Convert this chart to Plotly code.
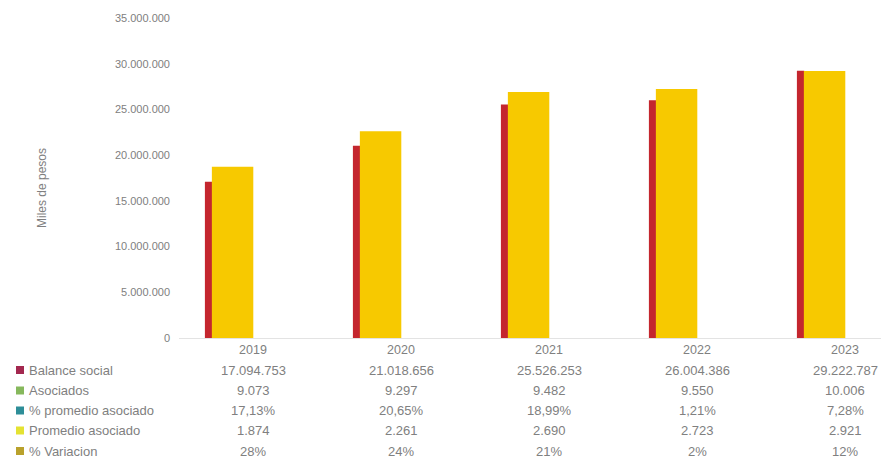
import plotly.graph_objects as go

years = ["2019", "2020", "2021", "2022", "2023"]
balance_social = [17094753, 21018656, 25526253, 26004386, 29222787]
asociados = [9073, 9297, 9482, 9550, 10006]
pct_promedio_asociado = ["17,13%", "20,65%", "18,99%", "1,21%", "7,28%"]
promedio_asociado = [1874, 2261, 2690, 2723, 2921]
pct_variacion = ["28%", "24%", "21%", "2%", "12%"]

row_labels = ["Balance social", "Asociados", "% promedio asociado", "Promedio asociado", "% Variacion"]
row_colors = ["#A3284F", "#86B85C", "#2E8E98", "#E4E232", "#B9A12C"]

def fmt_int(v):
    return f"{v:,}".replace(",", ".")

table_rows = [
    [fmt_int(v) for v in balance_social],
    [fmt_int(v) for v in asociados],
    pct_promedio_asociado,
    [fmt_int(v) for v in promedio_asociado],
    pct_variacion,
]

OFF = 8  # page body margin
W, H = 889 - OFF, 461 - OFF
L, R, T, B = 179 - OFF, 0, 18 - OFF, 461 - 338
PW, PH = W - L - R, H - T - B
BASE = T + PH  # y pixel (figure coords) of the x axis


def px_x(screen_x):
    return (screen_x - OFF - L) / PW


def px_y(screen_y):
    return (BASE - (screen_y - OFF)) / PH


xs = list(range(len(years)))

fig = go.Figure()
fig.add_trace(go.Bar(
    x=xs, y=balance_social, name="Balance social",
    marker=dict(color="#C4262E", line=dict(width=0)),
    width=0.05, offset=-0.325, yaxis="y",
))
fig.add_trace(go.Bar(
    x=xs, y=promedio_asociado, name="Promedio asociado",
    marker=dict(color="#F7C900", line=dict(width=0)),
    width=0.28, offset=-0.278, yaxis="y2",
))

TXT = "#808080"
FONT = "Liberation Sans"

annotations = []
shapes = []
row_y_px = [370, 390.5, 410.5, 430.5, 451]
for r, (lab, col, vals) in enumerate(zip(row_labels, row_colors, table_rows)):
    yp = px_y(row_y_px[r])
    shapes.append(dict(type="rect", xref="paper", yref="paper",
                       x0=px_x(16), x1=px_x(24),
                       y0=px_y(row_y_px[r] + 4), y1=px_y(row_y_px[r] - 4),
                       fillcolor=col, line=dict(width=0)))
    annotations.append(dict(xref="paper", yref="paper", x=px_x(27), y=yp,
                            text=lab, showarrow=False, xanchor="left", yanchor="middle",
                            font=dict(size=13, color=TXT, family=FONT)))
    for i, v in enumerate(vals):
        annotations.append(dict(xref="x", yref="paper", x=xs[i], y=yp, text=v,
                                showarrow=False, xanchor="center", yanchor="middle",
                                font=dict(size=13, color=TXT, family=FONT)))

annotations.append(dict(xref="paper", yref="paper", x=px_x(42), y=px_y(188),
                        text="Miles de pesos", textangle=-90, showarrow=False,
                        xanchor="center", yanchor="middle",
                        font=dict(size=12, color=TXT, family=FONT)))

fig.update_layout(
    width=W, height=H,
    margin=dict(l=L, r=R, t=T, b=B, pad=0),
    paper_bgcolor="white", plot_bgcolor="white",
    separators=",.",
    showlegend=False,
    barmode="overlay",
    font=dict(family=FONT, color=TXT),
    xaxis=dict(
        range=[-0.5, PW / 148 - 0.5],
        tickmode="array", tickvals=xs, ticktext=years,
        tickfont=dict(size=12.5, color=TXT, family=FONT),
        showgrid=False, zeroline=False, showline=True, linecolor="#E3E3E3", linewidth=1,
        ticks="", ticklen=0,
    ),
    yaxis=dict(
        range=[0, 35000000],
        tickmode="array", tickvals=[i * 5000000 for i in range(8)],
        tickformat=",d",
        tickfont=dict(size=11, color=TXT, family=FONT),
        ticklabelstandoff=8,
        showgrid=False, zeroline=False, showline=False, ticks="",
    ),
    yaxis2=dict(
        range=[0, 3500], overlaying="y", side="right", visible=False,
        showgrid=False, zeroline=False,
    ),
    annotations=annotations,
    shapes=shapes,
)

fig.write_html("out.html")
